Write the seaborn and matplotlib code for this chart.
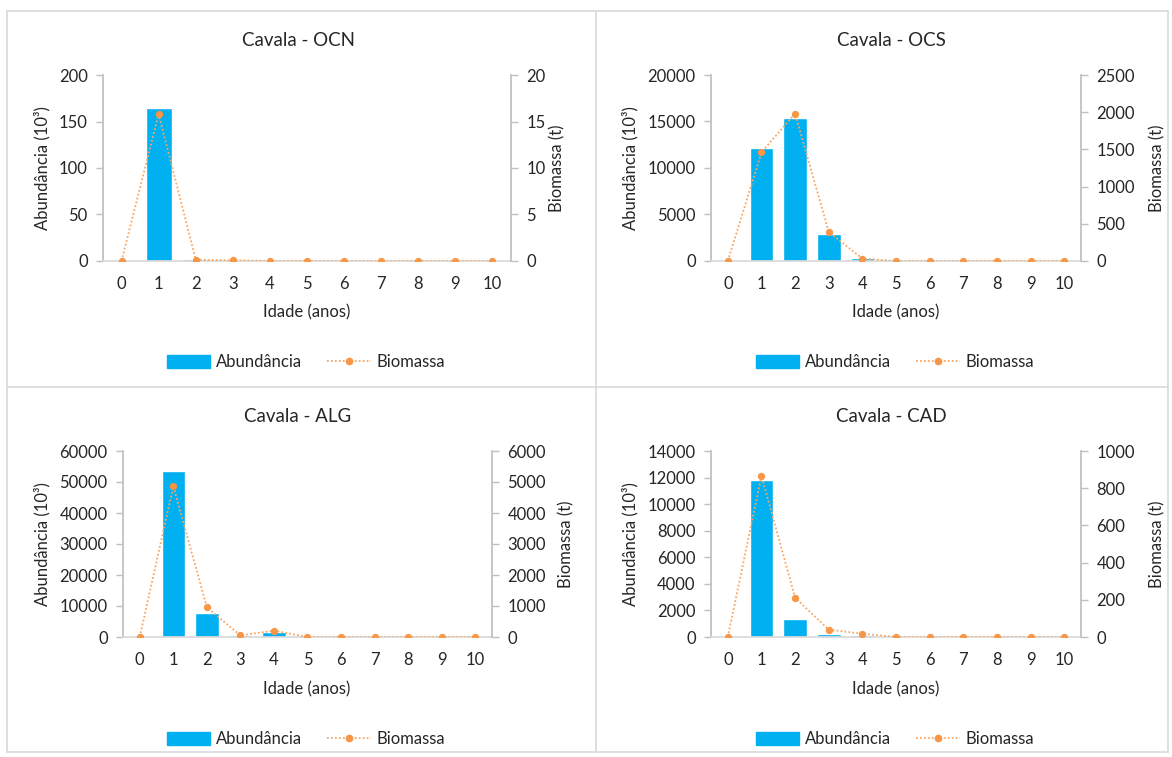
import matplotlib
matplotlib.use("Agg")
import matplotlib.pyplot as plt
import seaborn as sns
import pandas as pd
from matplotlib.lines import Line2D
from matplotlib.patches import Patch

# Age classes (years)
ages = list(range(11))

# Abundance (10^3 individuals) and biomass (t) by age, per area
abund_ocn = [0, 164, 1.8, 1.0, 0, 0, 0, 0, 0, 0, 0]
bio_ocn = [0, 15.8, 0.15, 0.07, 0, 0, 0, 0, 0, 0, 0]

abund_ocs = [0, 12180, 15420, 2880, 320, 0, 0, 0, 0, 0, 0]
bio_ocs = [0, 1460, 1982, 392, 32, 0, 0, 0, 0, 0, 0]

abund_alg = [0, 53600, 7900, 650, 1600, 0, 0, 0, 0, 0, 0]
bio_alg = [0, 4865, 960, 50, 205, 0, 0, 0, 0, 0, 0]

abund_cad = [0, 11790, 1330, 200, 125, 0, 0, 0, 0, 0, 0]
bio_cad = [0, 867, 212, 39, 18, 0, 0, 0, 0, 0, 0]

titles = ["Cavala - OCN", "Cavala - OCS", "Cavala - ALG", "Cavala - CAD"]
left_limits = [200, 20000, 60000, 14000]
left_steps = [50, 5000, 10000, 2000]
right_limits = [20, 2500, 6000, 1000]
right_steps = [5, 500, 1000, 200]

BAR = "#00B0F0"
LINE = "#F8A765"
MARK = "#F79646"
TXT = "#262626"

sns.set_theme(style="white")
plt.rcParams["font.family"] = ["Lato", "DejaVu Sans"]

W, H = 1172, 757
fig = plt.figure(figsize=(W / 100, H / 100), dpi=100)
fig.patch.set_facecolor("white")


def fx(px):
    return px / W


def fy(py):
    return 1 - py / H


# axes boxes in pixels: left, right, top, bottom
boxes = [(103, 511, 75, 261), (711, 1081, 75, 261),
         (123, 492, 451, 637), (711, 1081, 451, 637)]
title_pos = [(298, 41), (891, 41), (298, 417), (891, 417)]
xlabel_pos = [(307, 312), (896, 312), (307, 689), (896, 689)]
legend_pos = [(306, 362), (895, 362), (306, 739), (895, 739)]
ylab_left = [42, 630, 42, 630]
ylab_right = [557, 1157, 566, 1157]

abunds = [abund_ocn, abund_ocs, abund_alg, abund_cad]
bios = [bio_ocn, bio_ocs, bio_alg, bio_cad]

dot = (0, (1, 1.2))

for i in range(4):
    l, r, t, b = boxes[i]
    ax = fig.add_axes([fx(l), fy(b), fx(r) - fx(l), fy(t) - fy(b)])
    df = pd.DataFrame({"idade": [str(a) for a in ages],
                       "abund": abunds[i], "bio": bios[i], "x": ages})
    sns.barplot(data=df, x="idade", y="abund", color=BAR, saturation=1,
                width=0.7, ax=ax, order=[str(a) for a in ages])
    ax.set_xlim(-0.5, 10.5)
    ax.set_ylim(0, left_limits[i])
    ax.set_yticks(range(0, left_limits[i] + 1, left_steps[i]))
    ax.set_xlabel("")
    ax.set_ylabel("")

    ax2 = ax.twinx()
    sns.lineplot(data=df, x="x", y="bio", ax=ax2, color=LINE, lw=1.3,
                 linestyle=dot, marker="o", markersize=4.5,
                 markerfacecolor=MARK, markeredgecolor=MARK)
    ax2.set_xlim(-0.5, 10.5)
    ax2.set_ylim(0, right_limits[i])
    ax2.set_yticks(range(0, right_limits[i] + 1, right_steps[i]))
    ax2.set_xlabel("")
    ax2.set_ylabel("")

    for a in (ax, ax2):
        a.spines["top"].set_visible(False)
        a.spines["left"].set_color("#bfbfbf")
        a.spines["right"].set_color("#bfbfbf")
        a.spines["bottom"].set_color("#d9d9d9")
        a.tick_params(axis="y", length=5, width=1, color="#bfbfbf",
                      labelsize=12, labelcolor=TXT, pad=6)
        a.tick_params(axis="x", length=0, labelsize=12, labelcolor=TXT, pad=11)
    ax.spines["right"].set_visible(False)
    ax2.spines["left"].set_visible(False)
    ax2.spines["bottom"].set_visible(False)
    ax.tick_params(axis="y", left=True)
    ax2.tick_params(axis="y", right=True)
    ax.set_facecolor("none")

    tx, ty = title_pos[i]
    fig.text(fx(tx), fy(ty), titles[i], ha="center", va="center",
             fontsize=13.5, color=TXT)
    xx, xy = xlabel_pos[i]
    fig.text(fx(xx), fy(xy), "Idade (anos)", ha="center", va="center",
             fontsize=12, color=TXT)
    fig.text(fx(ylab_left[i]), fy((t + b) / 2), "Abundância (10³)",
             rotation=90, ha="center", va="center", fontsize=12, color=TXT)
    fig.text(fx(ylab_right[i]), fy((t + b) / 2), "Biomassa (t)",
             rotation=90, ha="center", va="center", fontsize=12, color=TXT)

    handles = [Patch(facecolor=BAR, edgecolor=BAR),
               Line2D([], [], color=LINE, lw=1.3, linestyle=dot,
                      marker="o", markersize=4.5, markerfacecolor=MARK,
                      markeredgecolor=MARK)]
    lx, ly = legend_pos[i]
    fig.legend(handles, ["Abundância", "Biomassa"], loc="center",
               bbox_to_anchor=(fx(lx), fy(ly)), ncol=2, frameon=False,
               fontsize=12, handlelength=2.6, handleheight=0.8,
               columnspacing=1.5, handletextpad=0.35, labelcolor=TXT)

# panel frames
frame = dict(color="#d9d9d9", lw=1.2)
for xpix in (7, 596, 1168):
    fig.add_artist(Line2D([fx(xpix), fx(xpix)], [fy(11), fy(752)], **frame))
for ypix in (11, 387, 752):
    fig.add_artist(Line2D([fx(7), fx(1168)], [fy(ypix), fy(ypix)], **frame))

fig.savefig("out.png", dpi=100, facecolor="white")
